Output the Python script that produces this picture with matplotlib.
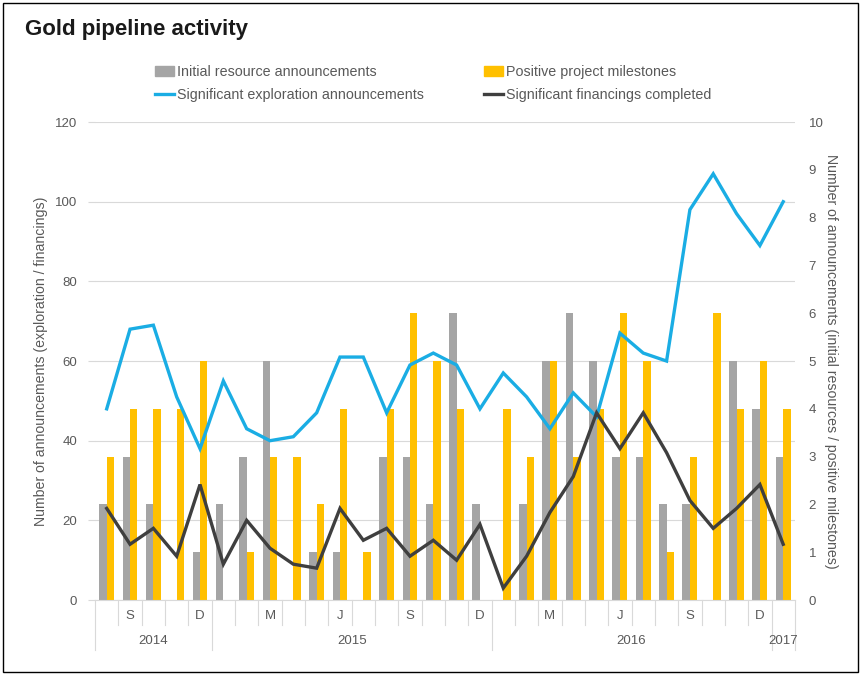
import numpy as np
import matplotlib
matplotlib.use('Agg')
import matplotlib.pyplot as plt
from matplotlib.patches import Rectangle, Patch
from matplotlib.lines import Line2D
import matplotlib.transforms as mtransforms

# ------------------------------------
# données mensuelles : août 2014 -> janvier 2017
# ------------------------------------
month_labels = ['', 'S', '', '', 'D',
                '', '', 'M', '', '', 'J', '', '', 'S', '', '', 'D',
                '', '', 'M', '', '', 'J', '', '', 'S', '', '', 'D',
                '']
years = ['2014', '2015', '2016', '2017']
months_per_year = [5, 12, 12, 1]

# barres (axe de droite)
initial_resources = [2, 3, 2, 0, 1,
                     2, 3, 5, 0, 1, 1, 0, 3, 3, 2, 6, 2,
                     0, 2, 5, 6, 5, 3, 3, 2, 2, 0, 5, 4,
                     3]
positive_milestones = [3, 4, 4, 4, 5,
                       0, 1, 3, 3, 2, 4, 1, 4, 6, 5, 4, 0,
                       4, 3, 5, 3, 4, 6, 5, 1, 3, 6, 4, 5,
                       4]

# courbes (axe de gauche)
exploration = [48, 68, 69, 51, 38,
               55, 43, 40, 41, 47, 61, 61, 47, 59, 62, 59, 48,
               57, 51, 43, 52, 46, 67, 62, 60, 98, 107, 97, 89,
               100]
financings = [23, 14, 18, 11, 29,
              9, 20, 13, 9, 8, 23, 15, 18, 11, 15, 10, 19,
              3, 11, 22, 31, 47, 38, 47, 37, 25, 18, 23, 29,
              14]

GRAY = '#A5A5A5'
YELLOW = '#FFC000'
BLUE = '#1AADE4'
DARK = '#3F3F3F'
TXT = '#595959'
LIGHT = '#D9D9D9'

REG = ['Liberation Sans', 'DejaVu Sans']

x = np.arange(len(month_labels))

fig = plt.figure(figsize=(8.64, 6.78), dpi=100)
ax = fig.add_axes([0.110, 0.115, 0.810, 0.705])
axb = ax.twinx()
ax.set_zorder(axb.get_zorder() + 1)
ax.patch.set_visible(False)

# barres
w = 0.32
axb.bar(x - w/2, initial_resources, width=w, color=GRAY, zorder=2)
axb.bar(x + w/2, positive_milestones, width=w, color=YELLOW, zorder=2)
axb.set_ylim(0, 10)
axb.set_yticks(range(0, 11))
for g in range(0, 121, 20):
    axb.axhline(g / 12, color=LIGHT, lw=0.8, zorder=0)

# courbes
ax.plot(x, exploration, color=BLUE, lw=2.4, solid_joinstyle='miter')
ax.plot(x, financings, color=DARK, lw=2.4, solid_joinstyle='miter')
ax.set_ylim(0, 120)
ax.set_yticks(range(0, 121, 20))
ax.set_xlim(-0.5, len(x) - 0.5)
ax.set_xticks([])

for a in (ax, axb):
    for s in a.spines.values():
        s.set_visible(False)
ax.tick_params(axis='y', length=5, color=LIGHT, labelcolor=TXT, labelsize=9.5, pad=8)
axb.tick_params(axis='y', length=0, labelcolor=TXT, labelsize=9.5, pad=10)
for lab in ax.get_yticklabels() + axb.get_yticklabels():
    lab.set_family(REG)

ax.set_ylabel('Number of announcements (exploration / financings)', color=TXT,
              fontsize=10.2, family=REG, labelpad=5)
axb.set_ylabel('Number of announcements (initial resources / positive milestones)',
               color=TXT, fontsize=10.2, family=REG, rotation=270, labelpad=10)

# axe des x à deux niveaux
trans = mtransforms.blended_transform_factory(ax.transData, ax.transAxes)
ax.plot([-0.5, len(x) - 0.5], [0, 0], color=LIGHT, lw=0.8, transform=trans, clip_on=False)
bounds = np.cumsum([0] + months_per_year) - 0.5
for k in range(len(x) + 1):
    xe = k - 0.5
    bottom = -0.105 if xe in bounds else -0.052
    ax.plot([xe, xe], [0, bottom], color=LIGHT, lw=0.8, transform=trans, clip_on=False)
for k, lab in enumerate(month_labels):
    if lab:
        ax.text(k, -0.034, lab, transform=trans, ha='center', va='center',
                color=TXT, fontsize=9.5, family=REG)
for i, yr in enumerate(years):
    ax.text((bounds[i] + bounds[i + 1]) / 2, -0.086, yr, transform=trans,
            ha='center', va='center', color=TXT, fontsize=9.5, family=REG)

# légende
handles = [Patch(color=GRAY), Line2D([], [], color=BLUE, lw=2.4),
           Patch(color=YELLOW), Line2D([], [], color=DARK, lw=2.4)]
labels = ['Initial resource announcements', 'Significant exploration announcements',
          'Positive project milestones', 'Significant financings completed']
leg = fig.legend(handles, labels, ncol=2, loc='center left', bbox_to_anchor=(155/864, 0.877),
                 frameon=False, prop={'family': REG, 'size': 10.3},
                 handlelength=1.3, handletextpad=0.25, columnspacing=4.2,
                 labelspacing=0.65, borderpad=0, borderaxespad=0)
for t in leg.get_texts():
    t.set_color(TXT)

fig.text(0.029, 0.956, 'Gold pipeline activity', fontsize=16, fontweight='bold',
         family=REG, color='#1a1a1a', va='center', ha='left')

fig.patches.append(Rectangle((3/864, 6/678), 855/864, 669/678, transform=fig.transFigure,
                             fill=False, edgecolor='black', lw=1.0))

fig.savefig('out.png', dpi=100)
